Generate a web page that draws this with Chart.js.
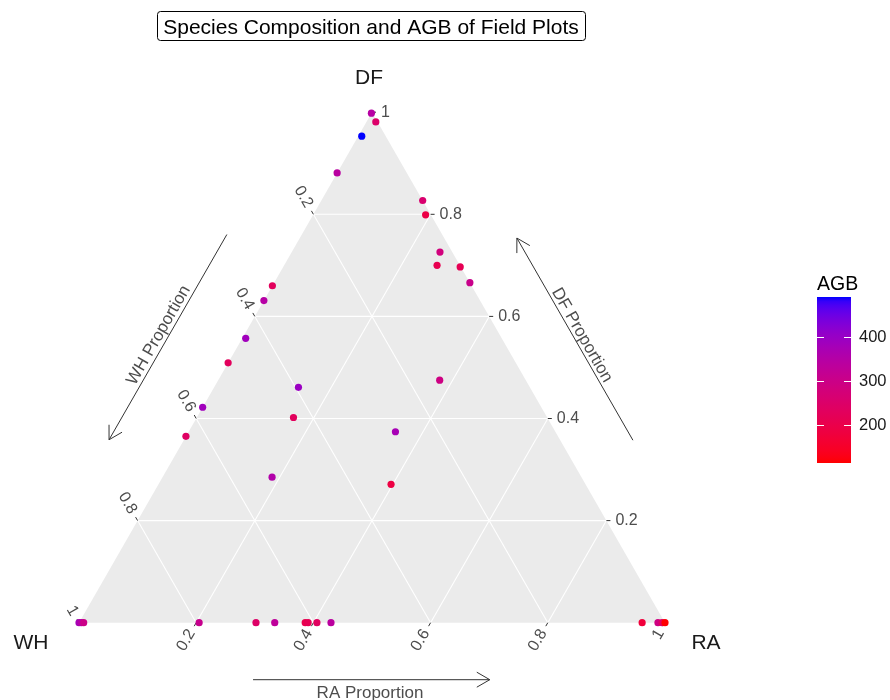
<!DOCTYPE html>
<html>
<head>
<meta charset="utf-8">
<title>Species Composition and AGB of Field Plots</title>
<script src="https://cdn.jsdelivr.net/npm/chart.js@4.4.1/dist/chart.umd.min.js"></script>
<style>
  html, body { margin: 0; padding: 0; background: #ffffff; }
  canvas { display: block; }
</style>
</head>
<body>
<canvas id="tern" width="890" height="700"></canvas>
<script>
// ---- plot data: species shares (DF, WH, RA) and above-ground biomass per field plot ----
const DF_SHARE = [0.998, 0.981, 0.953, 0.881, 0.827, 0.799, 0.726, 0.700, 0.697, 0.666,
                  0.660, 0.631, 0.557, 0.509, 0.461, 0.475, 0.422, 0.402, 0.374, 0.365,
                  0.285, 0.271,
                  0, 0, 0, 0, 0, 0, 0, 0, 0, 0, 0, 0, 0, 0];
const WH_SHARE = [0.002, 0.003, 0.041, 0.119, 0.000, 0.009, 0.021, 0.039, 0.001, 0.000,
                  0.340, 0.369, 0.437, 0.491, 0.395, 0.147, 0.578, 0.433, 0.273, 0.635,
                  0.528, 0.332,
                  1.000, 0.996, 0.992, 0.795, 0.698, 0.666, 0.614, 0.609, 0.594, 0.570,
                  0.039, 0.012, 0.005, 0.000];
const RA_SHARE = [0.000, 0.016, 0.006, 0.000, 0.173, 0.192, 0.253, 0.261, 0.302, 0.334,
                  0.000, 0.000, 0.006, 0.000, 0.144, 0.378, 0.000, 0.165, 0.353, 0.000,
                  0.187, 0.397,
                  0.000, 0.004, 0.008, 0.205, 0.302, 0.334, 0.386, 0.391, 0.406, 0.430,
                  0.961, 0.988, 0.995, 1.000];
const AGB_VALUES = [345, 250, 490, 340, 258, 192, 282, 208, 215, 305,
                    228, 348, 385, 228, 395, 292, 385, 228, 375, 238,
                    355, 188,
                    375, 350, 300, 310, 245, 330, 205, 215, 232, 338,
                    175, 290, 240, 114];

// axis breaks shared by the three ternary axes, and colour bar breaks
const AXIS_BREAKS = [0.2, 0.4, 0.6, 0.8, 1];
const AXIS_BREAK_LABELS = ['0.2', '0.4', '0.6', '0.8', '1'];
const AGB_BREAKS = [200, 300, 400];
const AGB_BREAK_LABELS = ['200', '300', '400'];

const VERTEX_NAMES = { top: 'DF', left: 'WH', right: 'RA' };
const AXIS_TITLES = { top: 'DF Proportion', left: 'WH Proportion', right: 'RA Proportion' };
const CHART_TITLE = 'Species Composition and AGB of Field Plots';
const LEGEND_TITLE = 'AGB';

const FONT = '"Liberation Sans", Arial, Helvetica, sans-serif';

// ---- colour scale: red -> blue interpolated in CIE Lab ----
function toLinear(c) { c /= 255; return c <= 0.04045 ? c / 12.92 : Math.pow((c + 0.055) / 1.055, 2.4); }
function fromLinear(c) {
  c = c <= 0.0031308 ? 12.92 * c : 1.055 * Math.pow(c, 1 / 2.4) - 0.055;
  return Math.round(Math.max(0, Math.min(1, c)) * 255);
}
const WHITE = [0.95047, 1.0, 1.08883];
function rgbToLab(rgb) {
  const R = toLinear(rgb[0]), G = toLinear(rgb[1]), B = toLinear(rgb[2]);
  const X = 0.4124564 * R + 0.3575761 * G + 0.1804375 * B;
  const Y = 0.2126729 * R + 0.7151522 * G + 0.0721750 * B;
  const Z = 0.0193339 * R + 0.1191920 * G + 0.9503041 * B;
  const f = t => t > 0.008856 ? Math.cbrt(t) : 7.787 * t + 16 / 116;
  const fx = f(X / WHITE[0]), fy = f(Y / WHITE[1]), fz = f(Z / WHITE[2]);
  return [116 * fy - 16, 500 * (fx - fy), 200 * (fy - fz)];
}
function labToRgb(lab) {
  const fy = (lab[0] + 16) / 116, fx = fy + lab[1] / 500, fz = fy - lab[2] / 200;
  const inv = t => { const t3 = t * t * t; return t3 > 0.008856 ? t3 : (t - 16 / 116) / 7.787; };
  const X = WHITE[0] * inv(fx), Y = WHITE[1] * inv(fy), Z = WHITE[2] * inv(fz);
  const R = 3.2404542 * X - 1.5371385 * Y - 0.4985314 * Z;
  const G = -0.9692660 * X + 1.8760108 * Y + 0.0415560 * Z;
  const B = 0.0556434 * X - 0.2040259 * Y + 1.0572252 * Z;
  return [fromLinear(R), fromLinear(G), fromLinear(B)];
}
const LOW_LAB = rgbToLab([255, 0, 0]);
const HIGH_LAB = rgbToLab([0, 0, 255]);
const AGB_MIN = Math.min(...AGB_VALUES);
const AGB_MAX = Math.max(...AGB_VALUES);
function agbColour(v) {
  const t = Math.max(0, Math.min(1, (v - AGB_MIN) / (AGB_MAX - AGB_MIN)));
  const lab = LOW_LAB.map((c, i) => c + (HIGH_LAB[i] - c) * t);
  const rgb = labToRgb(lab);
  return 'rgb(' + rgb.join(',') + ')';
}

// ---- ternary projection: x = RA + DF/2, y = DF ----
const points = DF_SHARE.map((df, i) => ({ x: RA_SHARE[i] + df / 2, y: df }));
const pointColours = AGB_VALUES.map(agbColour);

function ternPx(chart, df, wh, ra) {
  const s = df + wh + ra;
  df /= s; ra /= s;
  return {
    x: chart.scales.x.getPixelForValue(ra + df / 2),
    y: chart.scales.y.getPixelForValue(df)
  };
}
function unit(a, b) {
  const dx = b.x - a.x, dy = b.y - a.y, l = Math.hypot(dx, dy);
  return { x: dx / l, y: dy / l };
}
function lerp(a, b, t) { return { x: a.x + (b.x - a.x) * t, y: a.y + (b.y - a.y) * t }; }

function drawTickLabel(ctx, anchor, dir, text) {
  // dir: outward direction of the tick; text runs outward from the anchor
  ctx.save();
  ctx.translate(anchor.x, anchor.y);
  let ang = Math.atan2(-dir.y, -dir.x);
  let align = 'right';
  if (Math.cos(ang) < -0.01) { ang += Math.PI; align = 'left'; }
  ctx.rotate(ang);
  ctx.textAlign = align;
  ctx.textBaseline = 'middle';
  ctx.fillText(text, 0, 0);
  ctx.restore();
}

function drawArrow(ctx, from, to) {
  const u = unit(from, to);
  const head = 15, spread = Math.PI / 6;
  ctx.beginPath();
  ctx.moveTo(from.x, from.y);
  ctx.lineTo(to.x, to.y);
  const a = Math.atan2(u.y, u.x);
  ctx.moveTo(to.x - head * Math.cos(a - spread), to.y - head * Math.sin(a - spread));
  ctx.lineTo(to.x, to.y);
  ctx.lineTo(to.x - head * Math.cos(a + spread), to.y - head * Math.sin(a + spread));
  ctx.stroke();
}

const ternaryFrame = {
  id: 'ternaryFrame',
  beforeDatasetsDraw(chart) {
    const ctx = chart.ctx;
    const T = ternPx(chart, 1, 0, 0);   // DF vertex
    const L = ternPx(chart, 0, 1, 0);   // WH vertex
    const R = ternPx(chart, 0, 0, 1);   // RA vertex

    // panel
    ctx.save();
    ctx.fillStyle = '#EBEBEB';
    ctx.beginPath();
    ctx.moveTo(T.x, T.y); ctx.lineTo(L.x, L.y); ctx.lineTo(R.x, R.y); ctx.closePath();
    ctx.fill();

    // grid lines
    ctx.strokeStyle = '#FFFFFF';
    ctx.lineWidth = 1.1;
    AXIS_BREAKS.filter(v => v < 1).forEach(v => {
      const seg = [
        [ternPx(chart, v, 1 - v, 0), ternPx(chart, v, 0, 1 - v)],   // DF = v
        [ternPx(chart, 1 - v, v, 0), ternPx(chart, 0, v, 1 - v)],   // WH = v
        [ternPx(chart, 0, 1 - v, v), ternPx(chart, 1 - v, 0, v)]    // RA = v
      ];
      seg.forEach(s => {
        ctx.beginPath(); ctx.moveTo(s[0].x, s[0].y); ctx.lineTo(s[1].x, s[1].y); ctx.stroke();
      });
    });

    // ticks and tick labels
    const tickLen = 4, gap = 5;
    ctx.font = '16px ' + FONT;
    AXIS_BREAKS.forEach((v, i) => {
      const lbl = AXIS_BREAK_LABELS[i];
      const ticks = [
        { p: ternPx(chart, v, 0, 1 - v), q: ternPx(chart, v, 1 - v, 0) },   // DF on right edge
        { p: ternPx(chart, 1 - v, v, 0), q: ternPx(chart, 0, v, 1 - v) },   // WH on left edge
        { p: ternPx(chart, 0, 1 - v, v), q: ternPx(chart, 1 - v, 0, v) }    // RA on bottom edge
      ];
      const fallbackDirs = [unit(L, R), unit(R, T), unit(T, L)];
      ticks.forEach((tk, k) => {
        let dir = (Math.hypot(tk.p.x - tk.q.x, tk.p.y - tk.q.y) > 1) ? unit(tk.q, tk.p) : fallbackDirs[k];
        ctx.strokeStyle = '#333333';
        ctx.lineWidth = 1;
        ctx.beginPath();
        ctx.moveTo(tk.p.x, tk.p.y);
        ctx.lineTo(tk.p.x + dir.x * tickLen, tk.p.y + dir.y * tickLen);
        ctx.stroke();
        ctx.fillStyle = '#4D4D4D';
        drawTickLabel(ctx, { x: tk.p.x + dir.x * (tickLen + gap), y: tk.p.y + dir.y * (tickLen + gap) }, dir, lbl);
      });
    });
    ctx.restore();
  },
  afterDatasetsDraw(chart) {
    const ctx = chart.ctx;
    const T = ternPx(chart, 1, 0, 0);
    const L = ternPx(chart, 0, 1, 0);
    const R = ternPx(chart, 0, 0, 1);
    ctx.save();

    // vertex names
    ctx.fillStyle = '#1A1A1A';
    ctx.font = '21px ' + FONT;
    ctx.textAlign = 'center';
    ctx.textBaseline = 'middle';
    ctx.fillText(VERTEX_NAMES.top, T.x - 3, T.y - 34);
    ctx.fillText(VERTEX_NAMES.left, L.x - 48, L.y + 21);
    ctx.fillText(VERTEX_NAMES.right, R.x + 41, R.y + 21);

    // axis arrows with titles
    ctx.strokeStyle = '#333333';
    ctx.fillStyle = '#4D4D4D';
    ctx.lineWidth = 1;
    ctx.font = '17px ' + FONT;
    const uLeft = unit(L, T), nLeft = { x: uLeft.y, y: -uLeft.x };
    const uRight = unit(R, T), nRight = { x: -uRight.y, y: uRight.x };
    const off = (p, n, d) => ({ x: p.x + n.x * d, y: p.y + n.y * d });

    drawArrow(ctx, off(lerp(L, T, 0.697), nLeft, 65), off(lerp(L, T, 0.295), nLeft, 65));
    drawArrow(ctx, off(lerp(R, T, 0.296), nRight, 63), off(lerp(R, T, 0.692), nRight, 63));
    drawArrow(ctx, { x: lerp(L, R, 0.297).x, y: L.y + 57 }, { x: lerp(L, R, 0.701).x, y: L.y + 57 });

    let c = off(lerp(L, T, 0.491), nLeft, 74);
    ctx.save(); ctx.translate(c.x, c.y); ctx.rotate(Math.atan2(uLeft.y, uLeft.x));
    ctx.textAlign = 'center'; ctx.textBaseline = 'middle'; ctx.fillText(AXIS_TITLES.left, 0, 0); ctx.restore();

    c = off(lerp(R, T, 0.494), nRight, 71);
    ctx.save(); ctx.translate(c.x, c.y); ctx.rotate(Math.atan2(-uRight.y, -uRight.x));
    ctx.textAlign = 'center'; ctx.textBaseline = 'middle'; ctx.fillText(AXIS_TITLES.top, 0, 0); ctx.restore();

    ctx.textAlign = 'center'; ctx.textBaseline = 'middle';
    ctx.fillText(AXIS_TITLES.right, lerp(L, R, 0.5).x - 2, L.y + 71);

    // boxed title
    ctx.font = '21px ' + FONT;
    ctx.fillStyle = '#000000';
    ctx.strokeStyle = '#000000';
    ctx.lineWidth = 1;
    const cx = 371, cy = 27;
    const w = ctx.measureText(CHART_TITLE).width;
    const bx = Math.round(cx - w / 2 - 6) + 0.5, bw = Math.round(w + 12);
    ctx.beginPath();
    ctx.roundRect(bx, 11.5, bw, 29, 3);
    ctx.stroke();
    ctx.fillText(CHART_TITLE, cx, cy + 1);

    // colour bar legend
    const barX = 817, barY = 297, barW = 34, barH = 166;
    const grad = ctx.createLinearGradient(0, barY + barH, 0, barY);
    for (let i = 0; i <= 40; i++) {
      const t = i / 40;
      grad.addColorStop(t, agbColour(AGB_MIN + t * (AGB_MAX - AGB_MIN)));
    }
    ctx.fillStyle = grad;
    ctx.fillRect(barX, barY, barW, barH);
    ctx.strokeStyle = '#FFFFFF';
    ctx.lineWidth = 1;
    ctx.font = '16.5px ' + FONT;
    ctx.textAlign = 'left';
    ctx.textBaseline = 'middle';
    AGB_BREAKS.forEach((v, i) => {
      const y = Math.round(barY + barH - (v - AGB_MIN) / (AGB_MAX - AGB_MIN) * barH) + 0.5;
      ctx.beginPath();
      ctx.moveTo(barX, y); ctx.lineTo(barX + 7, y);
      ctx.moveTo(barX + barW - 7, y); ctx.lineTo(barX + barW, y);
      ctx.stroke();
      ctx.fillStyle = '#1A1A1A';
      ctx.fillText(AGB_BREAK_LABELS[i], barX + barW + 8, y);
    });
    ctx.fillStyle = '#000000';
    ctx.font = '19.5px ' + FONT;
    ctx.textBaseline = 'alphabetic';
    ctx.fillText(LEGEND_TITLE, barX, barY - 7);

    ctx.restore();
  }
};

new Chart(document.getElementById('tern').getContext('2d'), {
  type: 'scatter',
  data: {
    datasets: [{
      label: 'Field plots',
      data: points,
      pointRadius: 3.6,
      pointHoverRadius: 3.6,
      pointBackgroundColor: pointColours,
      pointBorderColor: pointColours,
      pointBorderWidth: 0,
      clip: false
    }]
  },
  options: {
    responsive: false,
    animation: false,
    devicePixelRatio: 1,
    events: [],
    layout: { padding: { left: 79, right: 225, top: 112.2, bottom: 77.3 } },
    scales: {
      x: { type: 'linear', min: 0, max: 1, display: false },
      y: { type: 'linear', min: 0, max: 1, display: false }
    },
    plugins: {
      legend: { display: false },
      tooltip: { enabled: false },
      title: { display: false }
    }
  },
  plugins: [ternaryFrame]
});
</script>
</body>
</html>
